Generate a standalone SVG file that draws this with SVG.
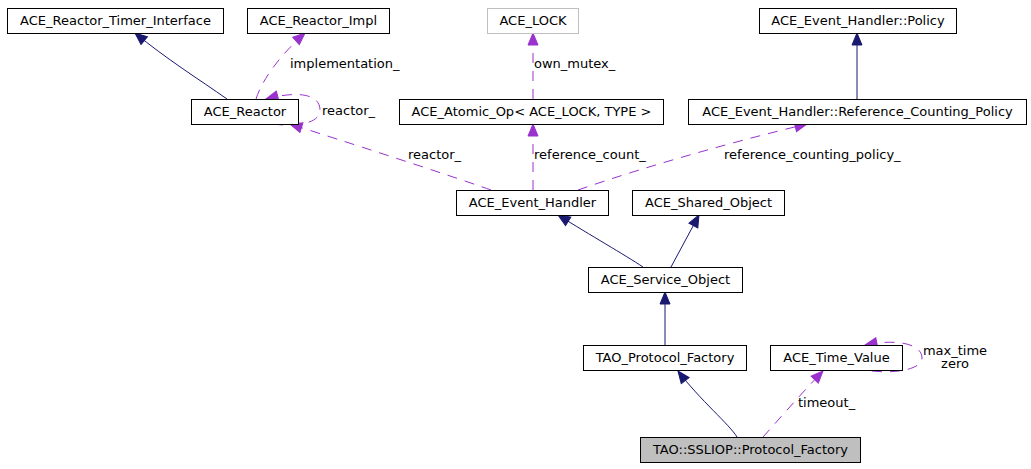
<svg xmlns="http://www.w3.org/2000/svg" width="1031" height="469" viewBox="0 0 1031 469">
<style>
  .node rect { fill: #ffffff; stroke: #000000; stroke-width: 1; }
  .node.ext rect { stroke: #bfbfbf; }
  .node.main rect { fill: #bfbfbf; }
  text { font-family: "DejaVu Sans", "Liberation Sans", sans-serif; font-size: 13px; fill: #000000; }
  .node text { text-anchor: middle; }
  .inh { fill: none; stroke: #191970; stroke-width: 1; marker-end: url(#navyArrow); }
  .use { fill: none; stroke: #9a32cd; stroke-width: 1; stroke-dasharray: 10,8; marker-end: url(#purpleArrow); }
</style>
<defs>
  <marker id="navyArrow" markerUnits="userSpaceOnUse" markerWidth="14" markerHeight="12" viewBox="-13 -6 14 12" refX="0" refY="0" orient="auto">
    <path d="M0,0 L-12,-5 L-12,5 Z" fill="#191970" stroke="#191970" stroke-width="1"/>
  </marker>
  <marker id="purpleArrow" markerUnits="userSpaceOnUse" markerWidth="14" markerHeight="12" viewBox="-13 -6 14 12" refX="0" refY="0" orient="auto">
    <path d="M0,0 L-12,-5 L-12,5 Z" fill="#9a32cd" stroke="#9a32cd" stroke-width="1"/>
  </marker>
</defs>
<rect x="0" y="0" width="1031" height="469" fill="#ffffff"/>

<g id="connectors">
  <path class="inh" d="M227,99 C200,80 165,58 135,33"/>
  <path class="use" d="M256,99 C262,80 280,55 305,33"/>
  <path class="use" d="M273,124 C295,127 320,124 320,110 C320,95 300,90 266,99"/>
  <path class="use" d="M491,190 C440,172 340,140 290,124"/>
  <path class="use" d="M533,190 L533,124"/>
  <path class="use" d="M578,190 C650,165 740,140 807,124"/>
  <path class="use" d="M533,99 L533,33"/>
  <path class="inh" d="M857,99 L857,33"/>
  <path class="inh" d="M643,267 C625,255 590,235 558,215"/>
  <path class="inh" d="M671,267 C680,250 690,232 699,215"/>
  <path class="inh" d="M665,345 L665,292"/>
  <path class="inh" d="M737,437 C730,425 700,400 678,371"/>
  <path class="use" d="M763,437 C780,418 800,395 823,371"/>
  <path class="use" d="M872,371 C900,374 922,368 922,358 C922,345 900,338 865,345"/>
  <text x="290" y="68">implementation_</text>
  <text x="322" y="115">reactor_</text>
  <text x="534" y="68">own_mutex_</text>
  <text x="408" y="159">reactor_</text>
  <text x="534" y="159">reference_count_</text>
  <text x="724" y="159">reference_counting_policy_</text>
  <text x="798" y="407">timeout_</text>
  <text x="955" y="355" text-anchor="middle">max_time</text>
  <text x="955" y="368" text-anchor="middle">zero</text>
</g>

<g id="ACE_Reactor_Timer_Interface" class="node"><rect x="7.5" y="8.5" width="216" height="25"/><text x="115.5" y="25">ACE_Reactor_Timer_Interface</text></g>
<g id="ACE_Reactor_Impl" class="node"><rect x="247.5" y="8.5" width="142" height="25"/><text x="318.5" y="25">ACE_Reactor_Impl</text></g>
<g id="ACE_LOCK" class="node ext"><rect x="487.5" y="8.5" width="91" height="25"/><text x="533" y="25">ACE_LOCK</text></g>
<g id="ACE_Event_Handler_Policy" class="node"><rect x="759.5" y="8.5" width="197" height="25"/><text x="858" y="25">ACE_Event_Handler::Policy</text></g>

<g id="ACE_Reactor" class="node"><rect x="191.5" y="99.5" width="107" height="25"/><text x="245" y="116">ACE_Reactor</text></g>
<g id="ACE_Atomic_Op" class="node"><rect x="399.5" y="99.5" width="264" height="25"/><text x="531.5" y="116">ACE_Atomic_Op&lt; ACE_LOCK, TYPE &gt;</text></g>
<g id="ACE_Event_Handler_Reference_Counting_Policy" class="node"><rect x="688.5" y="99.5" width="338" height="25"/><text x="857.5" y="116">ACE_Event_Handler::Reference_Counting_Policy</text></g>

<g id="ACE_Event_Handler" class="node"><rect x="456.5" y="190.5" width="152" height="25"/><text x="532.5" y="207">ACE_Event_Handler</text></g>
<g id="ACE_Shared_Object" class="node"><rect x="632.5" y="190.5" width="152" height="25"/><text x="708.5" y="207">ACE_Shared_Object</text></g>

<g id="ACE_Service_Object" class="node"><rect x="588.5" y="267.5" width="154" height="25"/><text x="665.5" y="284">ACE_Service_Object</text></g>

<g id="TAO_Protocol_Factory" class="node"><rect x="583.5" y="345.5" width="163" height="25"/><text x="665" y="362">TAO_Protocol_Factory</text></g>
<g id="ACE_Time_Value" class="node"><rect x="770.5" y="345.5" width="132" height="25"/><text x="836.5" y="362">ACE_Time_Value</text></g>

<g id="TAO_SSLIOP_Protocol_Factory" class="node main"><rect x="640.5" y="437.5" width="220" height="25"/><text x="750.5" y="454">TAO::SSLIOP::Protocol_Factory</text></g>
</svg>
